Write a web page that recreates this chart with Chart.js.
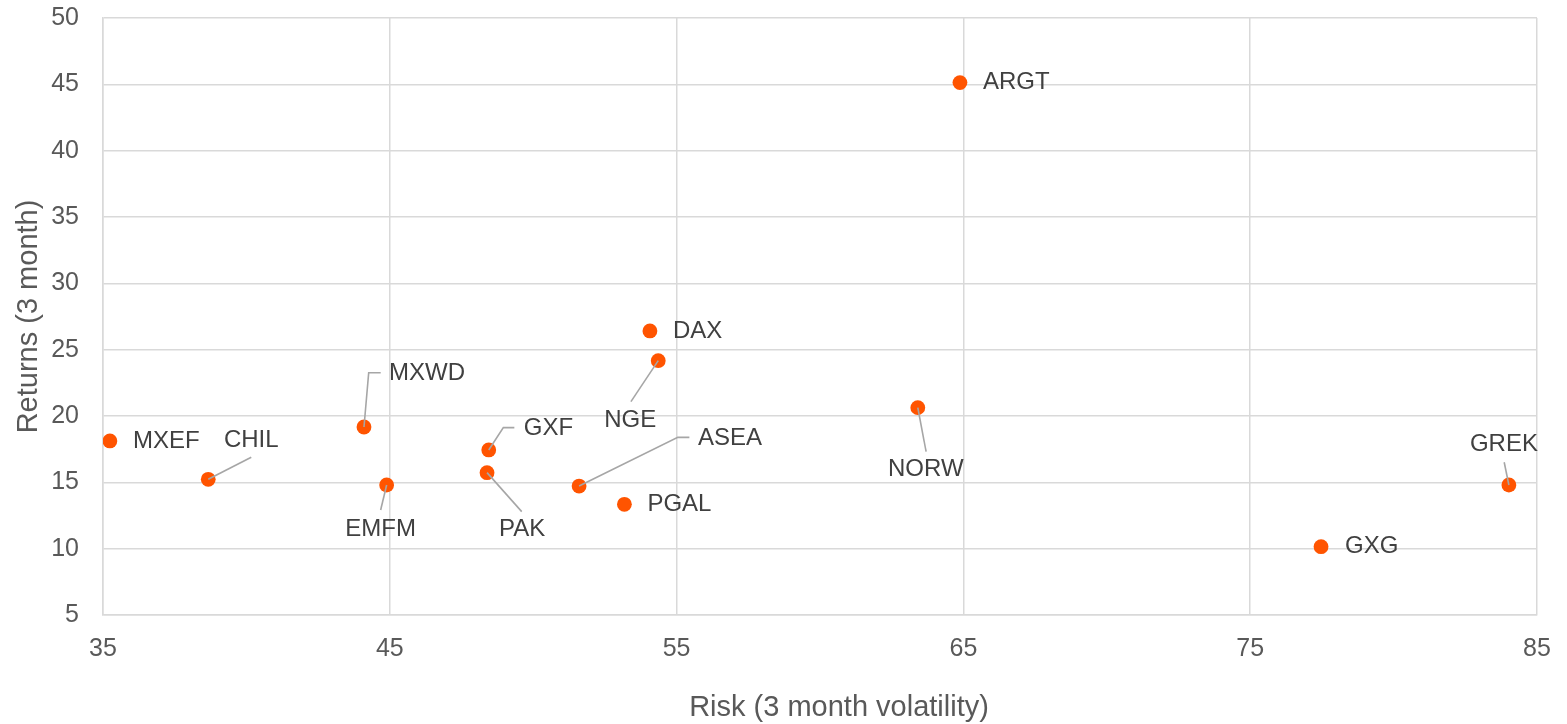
<!DOCTYPE html>
<html>
<head>
<meta charset="utf-8">
<script src="https://cdn.jsdelivr.net/npm/chart.js@4"></script>
<style>
  html, body { margin: 0; padding: 0; background: #ffffff; }
  #wrap { width: 1567px; height: 724px; position: relative; }
</style>
</head>
<body>
<div id="wrap"><canvas id="c"></canvas></div>
<script>
// ---- data ----
const tickers = ["MXEF","CHIL","MXWD","EMFM","GXF","PAK","ASEA","PGAL","DAX","NGE","NORW","ARGT","GXG","GREK"];
const risk    = [35.24, 38.67, 44.10, 44.89, 48.45, 48.39, 51.60, 53.18, 54.07, 54.36, 63.41, 64.88, 77.47, 84.02];
const returns = [18.12, 15.23, 19.17, 14.80, 17.44, 15.73, 14.72, 13.34, 26.41, 24.17, 20.63, 45.13, 10.15, 14.80];
const xTicks = [35, 45, 55, 65, 75, 85];
const yTicks = [5, 10, 15, 20, 25, 30, 35, 40, 45, 50];
const xTitle = "Risk (3 month volatility)";
const yTitle = "Returns (3 month)";

const points = risk.map((r, i) => ({ x: r, y: returns[i] }));

// label placement (pixel offsets from the point)
const labelLayout = {
  MXEF: { dx: 23, dy: 0, align: 'left' },
  CHIL: { dx: 43, dy: -39, align: 'center', line: [[43, -22]] },
  MXWD: { dx: 25, dy: -54, align: 'left', line: [[4.7, -54.3], [16.7, -54.3]] },
  EMFM: { dx: -6, dy: 44, align: 'center', line: [[-6, 25]] },
  GXF:  { dx: 35, dy: -22, align: 'left', line: [[14.6, -22.3], [25.6, -22.3]] },
  PAK:  { dx: 35, dy: 57, align: 'center', line: [[34.7, 39]] },
  ASEA: { dx: 119, dy: -48, align: 'left', line: [[98.7, -48.7], [110.3, -48.7]] },
  PGAL: { dx: 23, dy: 0, align: 'left' },
  DAX:  { dx: 23, dy: 0, align: 'left' },
  NGE:  { dx: -28, dy: 60, align: 'center', line: [[-27.3, 41]] },
  NORW: { dx: 8, dy: 62, align: 'center', line: [[8.3, 44]] },
  ARGT: { dx: 23, dy: 0, align: 'left' },
  GXG:  { dx: 24, dy: 0, align: 'left' },
  GREK: { dx: -5, dy: -41, align: 'center', line: [[-4.7, -22.7]] }
};

const FONT = "'Liberation Sans', Arial, sans-serif";

const labelPlugin = {
  id: 'pointLabels',
  afterDatasetsDraw(chart) {
    const ctx = chart.ctx;
    const meta = chart.getDatasetMeta(0);
    ctx.save();
    meta.data.forEach((el, i) => {
      const name = tickers[i];
      const L = labelLayout[name];
      if (!L) return;
      const px = el.x, py = el.y;
      if (L.line) {
        ctx.beginPath();
        ctx.strokeStyle = '#a6a6a6';
        ctx.lineWidth = 1.6;
        ctx.moveTo(px, py);
        L.line.forEach(p => ctx.lineTo(px + p[0], py + p[1]));
        ctx.stroke();
      }
      ctx.fillStyle = '#404040';
      ctx.font = "24px " + FONT;
      ctx.textAlign = L.align;
      ctx.textBaseline = 'middle';
      ctx.fillText(name, px + L.dx, py + L.dy);
    });
    // x-axis title (slightly right of the plot centre, as in the reference)
    const ca = chart.chartArea;
    ctx.fillStyle = '#595959';
    ctx.font = "29px " + FONT;
    ctx.textAlign = 'center';
    ctx.textBaseline = 'middle';
    ctx.fillText(xTitle, (ca.left + ca.right) / 2 + 19, 708);
    ctx.restore();
  }
};

new Chart(document.getElementById('c'), {
  type: 'scatter',
  data: {
    datasets: [{
      label: 'ETFs',
      data: points,
      backgroundColor: '#ff5400',
      borderColor: '#ff5400',
      pointRadius: 7.4,
      pointHoverRadius: 7.4,
      borderWidth: 0
    }]
  },
  options: {
    responsive: true,
    maintainAspectRatio: false,
    animation: false,
    devicePixelRatio: 1,
    layout: { padding: { top: 18, right: 30, left: 0, bottom: 0 } },
    plugins: { legend: { display: false }, tooltip: { enabled: false } },
    scales: {
      x: {
        type: 'linear',
        min: 35, max: 85,
        afterBuildTicks: s => { s.ticks = xTicks.map(v => ({ value: v })); },
        afterFit: s => { s.height = 109; s.paddingLeft = 0; s.paddingRight = 0; },
        grid: { color: '#d9d9d9', lineWidth: 1.5, drawTicks: false },
        border: { color: '#d9d9d9', width: 1.5 },
        ticks: { color: '#595959', font: { family: FONT, size: 25 }, padding: 19 },
        title: { display: false, text: xTitle }
      },
      y: {
        type: 'linear',
        min: 5, max: 50,
        afterBuildTicks: s => { s.ticks = yTicks.map(v => ({ value: v })); },
        afterFit: s => { s.width = 103; s.paddingTop = 0; s.paddingBottom = 0; },
        grid: { color: '#d9d9d9', lineWidth: 1.5, drawTicks: false },
        border: { color: '#d9d9d9', width: 1.5 },
        ticks: { color: '#595959', font: { family: FONT, size: 25 }, padding: 24 },
        title: { display: true, text: yTitle, color: '#595959', font: { family: FONT, size: 29 }, padding: { top: 12, bottom: 0 } }
      }
    }
  },
  plugins: [labelPlugin]
});
</script>
</body>
</html>
